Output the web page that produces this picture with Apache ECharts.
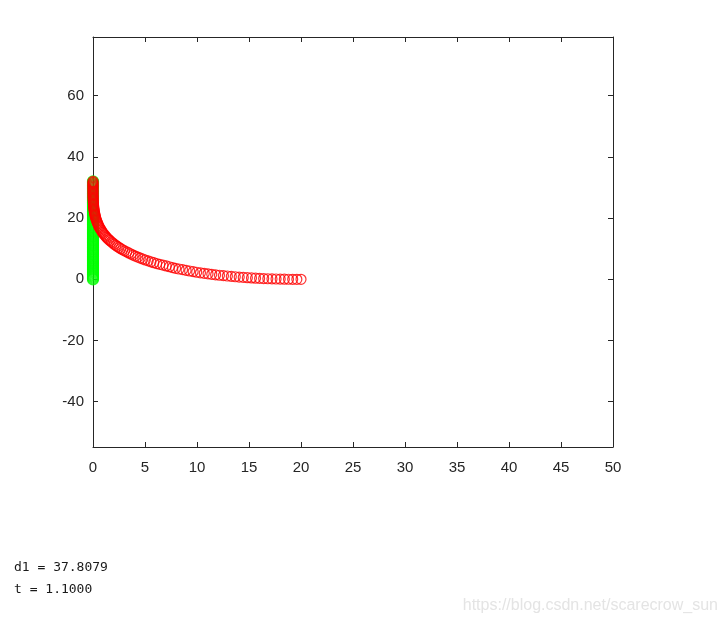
<!DOCTYPE html>
<html>
<head>
<meta charset="utf-8">
<script src="https://cdn.jsdelivr.net/npm/echarts@6/dist/echarts.min.js"></script>
<style>
  html, body { margin: 0; padding: 0; background: #ffffff; }
  #chart { width: 726px; height: 624px; }
</style>
</head>
<body>
<div id="chart"></div>
<script>
// pursuer path (red circles)
const redX = [
  20, 19.6, 19.2, 18.8, 18.4, 18.0, 17.6, 17.21, 16.81, 16.41,
  16.02, 15.63, 15.24, 14.84, 14.45, 14.06, 13.68, 13.30, 12.92, 12.54,
  12.16, 11.79, 11.42, 11.06, 10.70, 10.33, 9.97, 9.63, 9.29, 8.95,
  8.61, 8.27, 7.94, 7.64, 7.34, 7.04, 6.73, 6.42, 6.12, 5.84,
  5.57, 5.30, 5.03, 4.79, 4.55, 4.31, 4.07, 3.85, 3.65, 3.44,
  3.24, 3.03, 2.85, 2.67, 2.50, 2.34, 2.19, 2.04, 1.90, 1.77,
  1.64, 1.51, 1.40, 1.29, 1.19, 1.10, 1.00, 0.92, 0.84, 0.77,
  0.70, 0.63, 0.57, 0.52, 0.47, 0.42, 0.37, 0.33, 0.29, 0.26,
  0.23, 0.20, 0.18, 0.15, 0.13, 0.11, 0.092, 0.080, 0.068, 0.056,
  0.045, 0.036, 0.030, 0.023, 0.018, 0.013, 0.010, 0.007, 0.005, 0.004,
  0.003, 0.002, 0.001, 0.001, 0, 0, 0, 0, 0, 0
];
const redY = [
  0, 0.003, 0.011, 0.024, 0.045, 0.074, 0.105, 0.14, 0.19, 0.25,
  0.31, 0.38, 0.45, 0.53, 0.63, 0.73, 0.84, 0.96, 1.08, 1.20,
  1.33, 1.48, 1.64, 1.80, 1.97, 2.14, 2.32, 2.52, 2.73, 2.95,
  3.16, 3.37, 3.60, 3.85, 4.11, 4.37, 4.63, 4.90, 5.15, 5.43,
  5.73, 6.03, 6.32, 6.64, 6.96, 7.28, 7.60, 7.94, 8.28, 8.62,
  8.96, 9.31, 9.66, 10.02, 10.38, 10.75, 11.12, 11.49, 11.87, 12.24,
  12.62, 13.00, 13.39, 13.77, 14.16, 14.55, 14.94, 15.33, 15.72, 16.11,
  16.51, 16.90, 17.29, 17.69, 18.09, 18.48, 18.88, 19.28, 19.67, 20.07,
  20.47, 20.87, 21.27, 21.67, 22.07, 22.47, 22.87, 23.27, 23.67, 24.07,
  24.47, 24.87, 25.27, 25.67, 26.07, 26.47, 26.87, 27.27, 27.67, 28.07,
  28.47, 28.87, 29.27, 29.67, 30.07, 30.47, 30.87, 31.27, 31.67, 32.0
];
// target path on the y axis (green circles)
const greenX = 0;
const greenY = [
  0, 0.29, 0.59, 0.88, 1.18, 1.47, 1.76, 2.06, 2.35, 2.65,
  2.94, 3.23, 3.53, 3.82, 4.12, 4.41, 4.70, 5.00, 5.29, 5.59,
  5.88, 6.17, 6.47, 6.76, 7.06, 7.35, 7.64, 7.94, 8.23, 8.53,
  8.82, 9.11, 9.41, 9.70, 10.00, 10.29, 10.58, 10.88, 11.17, 11.47,
  11.76, 12.05, 12.35, 12.64, 12.94, 13.23, 13.52, 13.82, 14.11, 14.41,
  14.70, 14.99, 15.29, 15.58, 15.88, 16.17, 16.46, 16.76, 17.05, 17.35,
  17.64, 17.93, 18.23, 18.52, 18.82, 19.11, 19.40, 19.70, 19.99, 20.29,
  20.58, 20.87, 21.17, 21.46, 21.76, 22.05, 22.34, 22.64, 22.93, 23.23,
  23.52, 23.81, 24.11, 24.40, 24.70, 24.99, 25.28, 25.58, 25.87, 26.17,
  26.46, 26.75, 27.05, 27.34, 27.64, 27.93, 28.22, 28.52, 28.81, 29.11,
  29.40, 29.69, 29.99, 30.28, 30.58, 30.87, 31.16, 31.46, 31.75, 32.05
];
const yTicks = [-40, -20, 0, 20, 40, 60];
const consoleLines = ["d1 = 37.8079", "t = 1.1000"];
const watermark = "https://blog.csdn.net/scarecrow_sun";

const axisColor = "#262626";
const labelFont = { color: axisColor, fontSize: 15, fontFamily: "Liberation Sans, Arial, sans-serif" };

const xBase = {
  type: "value", min: 0, max: 50, interval: 5,
  axisLine: { show: true, onZero: false, lineStyle: { color: axisColor, width: 1 } },
  axisTick: { show: true, inside: true, length: 5, lineStyle: { color: axisColor } },
  splitLine: { show: false }
};
const yBase = {
  type: "value", min: -54.8, max: 79.2,
  axisLine: { show: true, onZero: false, lineStyle: { color: axisColor, width: 1 } },
  axisTick: { show: true, inside: true, length: 5, customValues: yTicks, lineStyle: { color: axisColor } },
  splitLine: { show: false }
};

// hollow circles, no fill, so overlapping marks show through
function ring(color) {
  return { color: "rgba(0,0,0,0)", borderColor: color, borderWidth: 1.2 };
}

const chart = echarts.init(document.getElementById("chart"));
chart.setOption({
  backgroundColor: "#ffffff",
  animation: false,
  grid: { left: 93, top: 37, width: 520, height: 410 },
  xAxis: [
    Object.assign({}, xBase, { position: "bottom", axisLabel: Object.assign({ margin: 13 }, labelFont) }),
    Object.assign({}, xBase, { position: "top", axisLabel: { show: false } })
  ],
  yAxis: [
    Object.assign({}, yBase, {
      position: "left",
      axisLabel: Object.assign({ margin: 9, customValues: yTicks, padding: [3, 0, 0, 0] }, labelFont)
    }),
    Object.assign({}, yBase, { position: "right", axisLabel: { show: false } })
  ],
  series: [
    {
      type: "scatter",
      clip: false,
      symbol: "circle",
      symbolSize: 11,
      itemStyle: ring("#00ff00"),
      data: greenY.map(y => [greenX, y])
    },
    {
      type: "scatter",
      clip: false,
      symbol: "circle",
      symbolSize: 10,
      itemStyle: ring("#ff0000"),
      data: redX.map((x, i) => [x, redY[i]])
    }
  ],
  graphic: [
    {
      type: "text", left: 14, top: 561,
      style: { text: consoleLines[0], fill: "#1a1a1a", font: "13px 'DejaVu Sans Mono', monospace" }
    },
    {
      type: "text", left: 14, top: 583,
      style: { text: consoleLines[1], fill: "#1a1a1a", font: "13px 'DejaVu Sans Mono', monospace" }
    },
    {
      type: "text", right: 8, top: 598,
      style: { text: watermark, fill: "#e4e4e4", font: "16px 'Liberation Sans', Arial, sans-serif" }
    }
  ]
});
</script>
</body>
</html>
